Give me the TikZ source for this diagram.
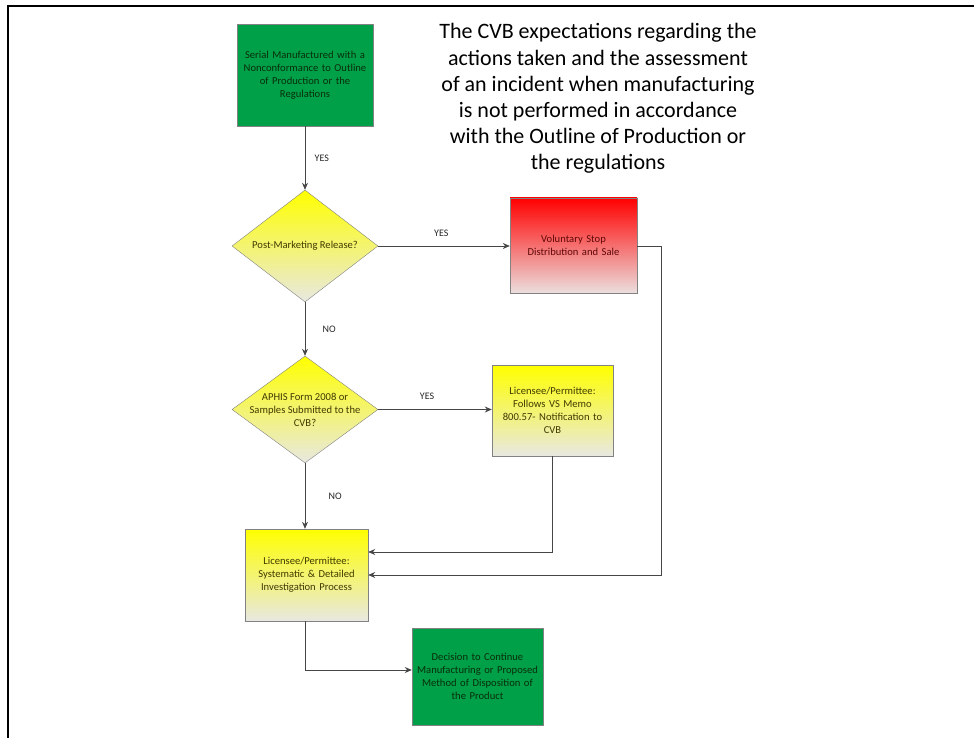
\documentclass[tikz,border=0pt]{standalone}
\usepackage{fontspec}
\setmainfont{Carlito}
\usetikzlibrary{shapes.geometric,arrows.meta}
\definecolor{boxgreen}{RGB}{0,160,72}
\definecolor{greentext}{RGB}{10,45,10}
\definecolor{yeltext}{RGB}{65,58,0}
\definecolor{redtext}{RGB}{95,8,8}
\definecolor{edgegray}{RGB}{130,130,130}
\definecolor{linegray}{RGB}{70,70,70}
\definecolor{fadegray}{RGB}{232,232,226}
\definecolor{fadered}{RGB}{236,222,222}
\tikzset{
  boxfont/.style={font=\fontsize{10.6}{13}\selectfont},
  greenbox/.style={draw=edgegray, fill=boxgreen, text=greentext, align=center, boxfont, inner sep=2pt},
  yelbox/.style={draw=edgegray, top color=yellow, bottom color=fadegray, text=yeltext, align=center, boxfont, inner sep=2pt},
  redbox/.style={draw=edgegray, top color=red, bottom color=fadered, text=redtext, align=center, boxfont, inner sep=2pt},
  decis/.style={diamond, draw=edgegray, top color=yellow, bottom color=fadegray, minimum width=146pt, minimum height=112pt, inner sep=0pt},
  dtext/.style={text=yeltext, align=center, boxfont},
  conn/.style={draw=linegray, line width=0.8pt, -{Stealth[length=7pt,width=6pt]}},
  lbl/.style={text=black!85, font=\fontsize{10}{12}\selectfont}
}
\begin{document}
\begin{tikzpicture}[x=1pt,y=-1pt]
\useasboundingbox (0,0) rectangle (974,738);
% frame
\draw[line width=2pt, black] (8,738) -- (8,6) -- (974,6);

% title
\node[font=\fontsize{22}{26.2}\selectfont, align=center, anchor=north] (title) at (598,20)
 {The CVB expectations regarding the\\actions taken and the assessment\\of an incident when manufacturing\\is not performed in accordance\\with the Outline of Production or\\the regulations};

\node[greenbox, minimum width=136pt, minimum height=102pt, text width=132pt] (serial) at (305,75)
 {Serial Manufactured with a\\Nonconformance to Outline\\of Production or the\\Regulations};

\node[decis, label={[dtext]center:Post-Marketing Release?}] (pmr) at (305,246) {};

\node[redbox, minimum width=127pt, minimum height=95pt, text width=122pt] (stop) at (573.5,245.5)
 {Voluntary Stop\\Distribution and Sale};

\node[decis, minimum height=107pt, label={[dtext]center:{APHIS Form 2008 or\\Samples Submitted to the\\CVB?}}] (aphis) at (305,409.5) {};

\node[yelbox, minimum width=121pt, minimum height=91pt, text width=117pt] (memo) at (552.5,410.5)
 {Licensee/Permittee:\\Follows VS Memo\\800.57- Notification to\\CVB};

\node[yelbox, minimum width=123pt, minimum height=92pt, text width=119pt] (inv) at (306.5,575)
 {Licensee/Permittee:\\Systematic \& Detailed\\Investigation Process};

\node[greenbox, minimum width=131pt, minimum height=97pt, text width=127pt] (dec) at (477.5,676.5)
 {Decision to Continue\\Manufacturing or Proposed\\Method of Disposition of\\the Product};

% connectors
\draw[conn] (serial.south -| pmr.north) -- (pmr.north) node[lbl, midway, right=6pt] (l1) {YES};
\draw[conn] (pmr.east) -- (stop.west |- pmr.east) node[lbl, pos=0.48, above=6pt] (l2) {YES};
\draw[conn] (pmr.south) -- (aphis.north) node[lbl, midway, right=14pt] (l3) {NO};
\draw[conn] (aphis.east) -- (memo.west |- aphis.east) node[lbl, pos=0.43, above=6pt] (l4) {YES};
\draw[conn] (aphis.south) -- (aphis.south |- inv.north) node[lbl, midway, right=20pt] (l5) {NO};
\coordinate (rr) at (661,246);
\draw[conn] (stop.east |- rr) -- (rr) |- (inv.east);
\draw[conn] (memo.south) |- ([yshift=23pt]inv.east);
\draw[conn] (inv.south -| aphis.south) |- (dec.west |- 0,670);
\end{tikzpicture}
\end{document}
